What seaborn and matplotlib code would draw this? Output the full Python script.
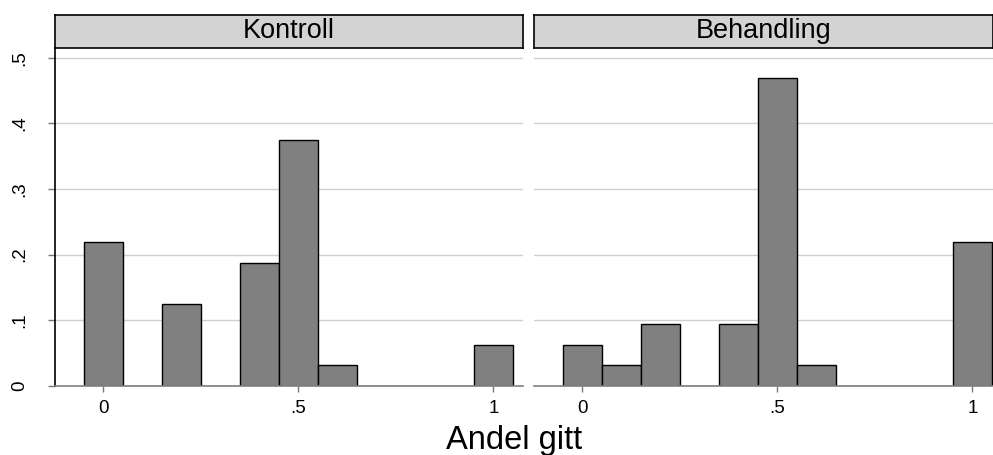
import matplotlib
matplotlib.use("Agg")
import matplotlib.pyplot as plt
import seaborn as sns
import pandas as pd

# ---- data (fraction of subjects per bin of "Andel gitt") ----
kontroll_x = [0.0, 0.2, 0.4, 0.5, 0.6, 1.0]
kontroll_frac = [0.21875, 0.125, 0.1875, 0.375, 0.03125, 0.0625]
behandling_x = [0.0, 0.1, 0.2, 0.4, 0.5, 0.6, 1.0]
behandling_frac = [0.0625, 0.03125, 0.09375, 0.09375, 0.46875, 0.03125, 0.21875]
panel_titles = ["Kontroll", "Behandling"]
x_ticks = [0.0, 0.5, 1.0]
x_ticklabels = ["0", ".5", "1"]
y_ticks = [0.0, 0.1, 0.2, 0.3, 0.4, 0.5]
y_ticklabels = ["0", ".1", ".2", ".3", ".4", ".5"]
x_title = "Andel gitt"

df = pd.concat([
    pd.DataFrame({"andel": kontroll_x, "frac": kontroll_frac, "gruppe": panel_titles[0]}),
    pd.DataFrame({"andel": behandling_x, "frac": behandling_frac, "gruppe": panel_titles[1]}),
], ignore_index=True)

sns.set_theme(style="white")
plt.rcParams["font.family"] = ["Liberation Sans", "DejaVu Sans"]

W, H = 993, 455
fig = plt.figure(figsize=(W / 100, H / 100), dpi=100)
fig.patch.set_facecolor("white")


def rect(x0, y0, x1, y1):
    return [x0 / W, 1 - y1 / H, (x1 - x0) / W, (y1 - y0) / H]


layout = [
    ((55, 48, 522.7, 385.7), (-0.124, 1.075), True),
    ((534.3, 48, 993, 385.7), (-0.123, 1.053), False),
]

for title, (box, xlim, show_y) in zip(panel_titles, layout):
    ax = fig.add_axes(rect(*box))
    sub = df[df["gruppe"] == title]
    sns.histplot(data=sub, x="andel", weights="frac", binwidth=0.1,
                 binrange=(-0.05, 1.05), stat="count", color="#808080",
                 edgecolor="black", linewidth=1, alpha=1, ax=ax)
    ax.set_xlim(*xlim)
    ax.set_ylim(0, 0.5148)
    ax.set_xlabel("")
    ax.set_ylabel("")
    ax.set_facecolor("white")
    ax.set_yticks(y_ticks)
    ax.yaxis.grid(True, color="#cfcfcf", lw=1)
    ax.xaxis.grid(False)
    ax.set_axisbelow(True)
    ax.set_xticks(x_ticks)
    ax.set_xticklabels(x_ticklabels, fontsize=13.5)
    ax.tick_params(axis="x", bottom=True, length=4.5, width=1, color="#777777",
                   pad=5.5, labelcolor="black")
    for s in ["top", "right"]:
        ax.spines[s].set_visible(False)
    ax.spines["bottom"].set_color("#808080")
    ax.spines["bottom"].set_linewidth(1.2)
    if show_y:
        ax.set_yticklabels(y_ticklabels, fontsize=13.5, rotation=90, va="center")
        ax.tick_params(axis="y", left=True, length=5, width=1, color="#777777",
                       pad=14, labelcolor="black")
        ax.spines["left"].set_color("black")
        ax.spines["left"].set_linewidth(1.2)
    else:
        ax.set_yticklabels([])
        ax.tick_params(axis="y", left=False)
        ax.spines["left"].set_visible(False)

    hax = fig.add_axes(rect(box[0], 15, box[2], 48))
    hax.set_facecolor("#d3d3d3")
    hax.set_xticks([])
    hax.set_yticks([])
    for s in hax.spines.values():
        s.set_color("black")
        s.set_linewidth(1.2)
    hax.text(0.5, 0.29, title, ha="center", va="baseline", fontsize=19.5,
             transform=hax.transAxes, color="black")

fig.text(514 / W, 1 - 449 / H, x_title, ha="center", va="baseline",
         fontsize=23.5, color="black")

fig.savefig("out.png", dpi=100, facecolor="white")
